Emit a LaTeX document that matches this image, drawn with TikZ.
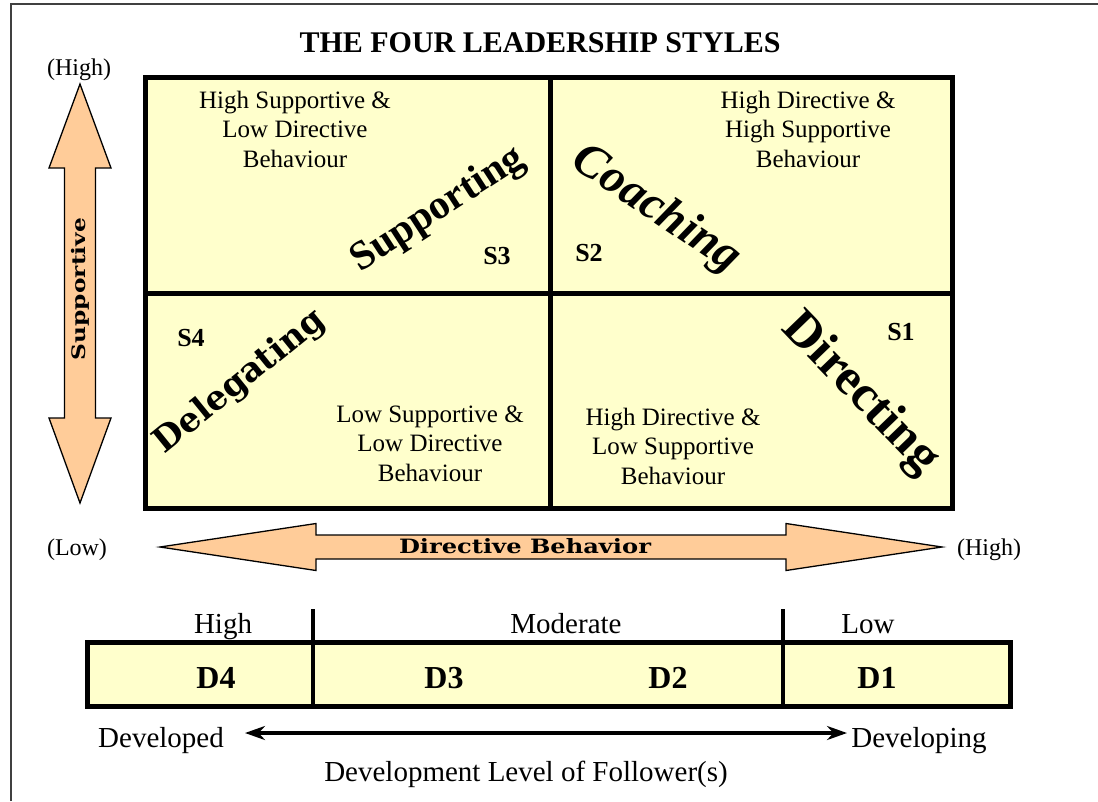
\documentclass[tikz,border=0pt]{standalone}
\usepackage{fontspec}
\usepackage{graphicx}
\setmainfont{Liberation Serif}
\newfontfamily\dejabf{DejaVu Serif}[BoldFont={* Bold}]
\usetikzlibrary{arrows.meta}
\definecolor{quadyellow}{HTML}{FFFFCC}
\definecolor{peach}{HTML}{FFCC99}
\definecolor{framegray}{HTML}{404040}
\begin{document}
\begin{tikzpicture}[x=1pt,y=-1pt,
  qtext/.style={align=center, font=\fontsize{25}{29.5}\selectfont, anchor=base, inner sep=0pt},
  slab/.style={font=\bfseries\fontsize{26}{30}\selectfont, inner sep=0pt},
  hilo/.style={font=\fontsize{24}{28}\selectfont, anchor=base, inner sep=0pt},
  btext/.style={font=\fontsize{29}{34}\selectfont, anchor=base, inner sep=0pt},
  dlab/.style={font=\bfseries\fontsize{32}{36}\selectfont, inner sep=0pt},
  bigarrow/.style={fill=peach, draw=black, line width=1.3pt, line join=miter},
  gridline/.style={line width=5pt},
  barline/.style={line width=3.5pt}
]
\useasboundingbox (0,0) rectangle (1098,801);
\fill[white] (0,0) rectangle (1098,801);
% outer frame (top and left)
\draw[framegray, line width=1.5pt] (11,801) -- (11,4) -- (1098,4);

% title
\node[anchor=base, inner sep=0pt, font=\bfseries\fontsize{30}{36}\selectfont] (title) at (540,52) {THE FOUR LEADERSHIP STYLES};

% grid
\fill[quadyellow] (145,77) rectangle (952,508);
\draw[gridline] (550,77) -- (550,508);
\draw[gridline] (145,293) -- (952,293);
\draw[gridline, line join=miter] (145,77) rectangle (952,508);

% quadrant descriptions (anchor = baseline of the last line)
\node[qtext] (tl) at (295,167) {High Supportive \&\\Low Directive\\Behaviour};
\node[qtext] (tr) at (808,167) {High Directive \&\\High Supportive\\Behaviour};
\node[qtext] (bl) at (430,481) {Low Supportive \&\\Low Directive\\Behaviour};
\node[qtext] (br) at (673,484) {High Directive \&\\Low Supportive\\Behaviour};

% style labels
\node[slab] (s3) at (497,256) {S3};
\node[slab] (s2) at (589,253) {S2};
\node[slab] (s1) at (901,332) {S1};
\node[slab] (s4) at (191,338) {S4};

% word art
\node[rotate=33, inner sep=0pt, font=\bfseries\fontsize{41}{41}\selectfont] (supporting) at (438,210) {Supporting};
\node[rotate=-34, inner sep=0pt, font=\bfseries\itshape\fontsize{48}{48}\selectfont] (coaching) at (656,210) {Coaching};
\node[rotate=-46, inner sep=0pt, font=\bfseries\fontsize{51}{51}\selectfont] (directing) at (860,394) {Directing};
\node[rotate=39, inner sep=0pt, font=\dejabf\bfseries\fontsize{34}{34}\selectfont] (delegating) at (240,382) {Delegating};

% vertical arrow (Supportive)
\draw[bigarrow] (80,84) -- (111,168) -- (95.5,168) -- (95.5,418) -- (111,418) -- (80,503)
  -- (49,418) -- (64.5,418) -- (64.5,168) -- (49,168) -- cycle;
\node[rotate=90, inner sep=0pt] (supportive) at (80,289) {\resizebox*{142pt}{18pt}{\dejabf\bfseries Supportive}};
\node[hilo] (vhigh) at (79,75) {(High)};
\node[hilo] (vlow) at (77,555) {(Low)};

% horizontal arrow (Directive Behavior)
\draw[bigarrow] (160,547) -- (316,523.5) -- (316,535) -- (786,535) -- (786,523.5) -- (942,547)
  -- (786,570.5) -- (786,559) -- (316,559) -- (316,570.5) -- cycle;
\node[inner sep=0pt] (directive) at (525,546) {\resizebox{252pt}{15pt}{\dejabf\bfseries Directive Behavior}};
\node[hilo] (hhigh) at (989,555) {(High)};

% development bar
\fill[quadyellow] (87,642) rectangle (1010,706);
\draw[barline] (313,609) -- (313,706);
\draw[barline] (783,609) -- (783,706);
\draw[line width=5pt, line join=miter] (87,642) rectangle (1010,706);
\node[btext] (lhigh) at (223,633) {High};
\node[btext] (lmod) at (566,633) {Moderate};
\node[btext] (llow) at (868,633) {Low};
\node[dlab] (d4) at (216,678) {D4};
\node[dlab] (d3) at (444,678) {D3};
\node[dlab] (d2) at (668,678) {D2};
\node[dlab] (d1) at (877,678) {D1};

% development arrow
\node[btext] (developed) at (161,747) {Developed};
\node[btext] (developing) at (919,747) {Developing};
\coordinate (da) at (245,733);
\coordinate (db) at (847,733);
\draw[line width=4pt, {Stealth[length=20pt,width=14pt]}-{Stealth[length=20pt,width=14pt]}] (da) -- (db);
\node[btext] (devlevel) at (526,781) {Development Level of Follower(s)};
\end{tikzpicture}
\end{document}
